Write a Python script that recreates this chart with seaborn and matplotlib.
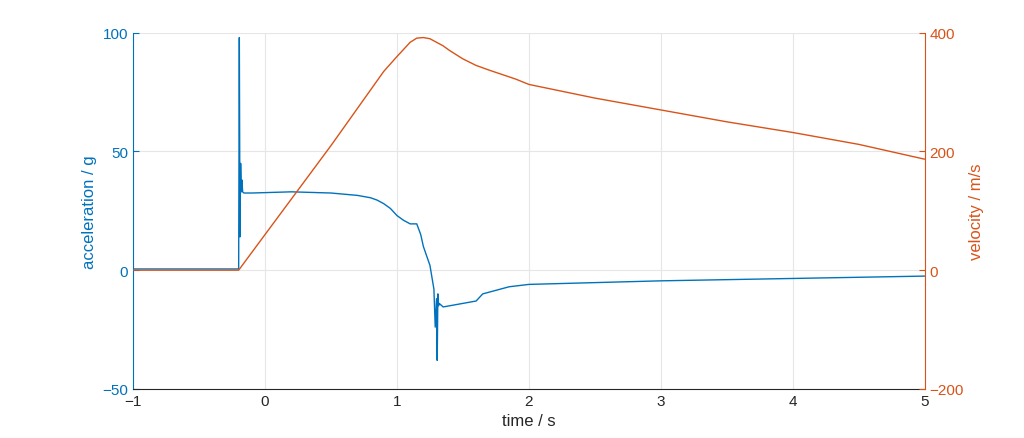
import numpy as np
import pandas as pd
import matplotlib
matplotlib.use('Agg')
import matplotlib.pyplot as plt
import seaborn as sns

sns.set_style('white')
plt.rcParams['font.family'] = ['Liberation Sans', 'DejaVu Sans']

# Acceleration samples (time in s, acceleration in g).
acc_time = [-1.0, -0.5, -0.2, -0.195, -0.19, -0.185, -0.18, -0.175, -0.17, -0.16,
            -0.1, 0.2, 0.5, 0.7, 0.8, 0.85, 0.9, 0.95, 1.0, 1.05, 1.1, 1.15, 1.18, 1.2,
            1.25, 1.28, 1.29, 1.3, 1.305, 1.31, 1.315, 1.32, 1.35, 1.5, 1.6,
            1.65, 1.85, 2.0, 3.0, 4.0, 5.0]
acc_g = [0.5, 0.5, 0.5, 98, 14, 45, 33, 38, 33, 32.5,
         32.5, 33, 32.5, 31.5, 30.5, 29.5, 28, 26, 23, 21, 19.5, 19.5, 15, 10,
         2, -8, -24, -12, -38, -10, -15, -14, -15.5, -14, -13,
         -10, -7, -6, -4.5, -3.5, -2.5]

# Velocity samples (time in s, velocity in m/s).
vel_time = [-1.0, -0.2, 0.0, 0.5, 0.9, 1.0, 1.05, 1.1, 1.15, 1.2, 1.25, 1.3,
            1.35, 1.4, 1.5, 1.6, 1.7, 1.9, 2.0, 2.5, 3.0, 3.5, 4.0, 4.5, 5.0]
vel_ms = [0, 0, 60, 210, 335, 360, 372, 384, 391, 392, 390, 384,
          378, 370, 356, 345, 337, 322, 313, 290, 270, 250, 232, 212, 187]

acc = pd.DataFrame({'time': acc_time, 'acc': acc_g})
vel = pd.DataFrame({'time': vel_time, 'vel': vel_ms})

blue = '#0072BD'
orange = '#D95319'

fig = plt.figure(figsize=(10.24, 4.39), dpi=100)
ax = fig.add_axes([0.13, 0.112, 0.773, 0.811])
sns.lineplot(data=acc, x='time', y='acc', color=blue, lw=1, ax=ax)
ax.set_xlim(-1, 5)
ax.set_ylim(-50, 100)
ax.set_yticks([-50, 0, 50, 100])
ax.set_xlabel('time / s', fontsize=12, color='#262626')
ax.set_ylabel('acceleration / g', fontsize=12, color=blue)
ax.tick_params(axis='y', colors=blue, labelsize=11, direction='in', length=4)
ax.tick_params(axis='x', colors='#262626', labelsize=11, direction='in', length=4)
ax.grid(True, color='#e6e6e6', lw=0.8)

ax2 = ax.twinx()
sns.lineplot(data=vel, x='time', y='vel', color=orange, lw=1, ax=ax2)
ax2.set_ylim(-200, 400)
ax2.set_yticks([-200, 0, 200, 400])
ax2.set_ylabel('velocity / m/s', fontsize=12, color=orange)
ax2.tick_params(axis='y', colors=orange, labelsize=11, direction='in', length=4)

for a in (ax, ax2):
    for s in a.spines.values():
        s.set_visible(False)
ax.spines['bottom'].set_visible(True)
ax.spines['bottom'].set_color('#262626')
ax.spines['left'].set_visible(True)
ax.spines['left'].set_color(blue)
ax2.spines['right'].set_visible(True)
ax2.spines['right'].set_color(orange)

fig.savefig('out.png', dpi=100)
